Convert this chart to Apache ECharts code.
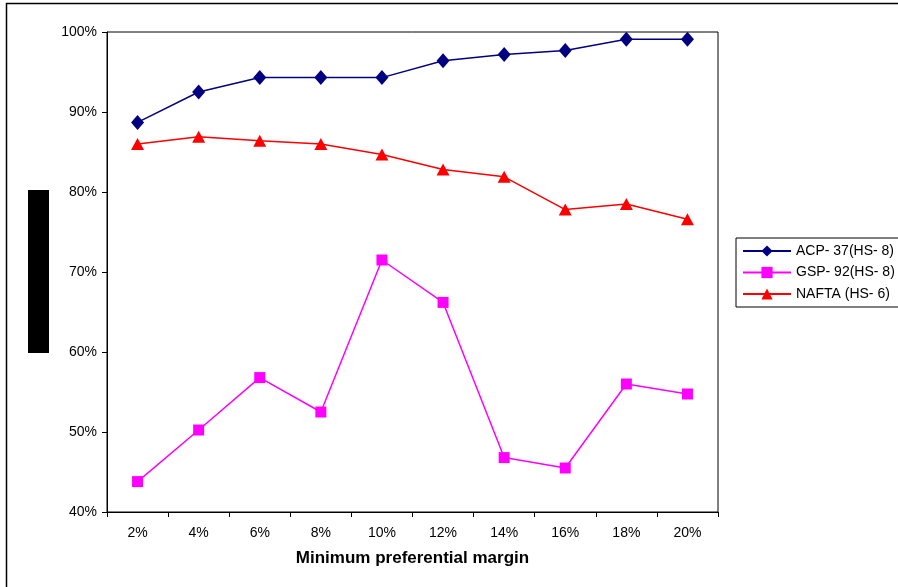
<!DOCTYPE html>
<html>
<head>
<meta charset="utf-8">
<script src="https://cdn.jsdelivr.net/npm/echarts@6/dist/echarts.min.js"></script>
<style>html,body{margin:0;padding:0;background:#fff;}#c{width:898px;height:587px;}</style>
</head>
<body>
<div id="c"></div>
<script>
const categories = ['2%','4%','6%','8%','10%','12%','14%','16%','18%','20%'];
const acpName = 'ACP- 37(HS- 8)';
const gspName = 'GSP- 92(HS- 8)';
const naftaName = 'NAFTA (HS- 6)';
const acpValues = [88.7, 92.5, 94.3, 94.3, 94.3, 96.4, 97.2, 97.7, 99.1, 99.1];
const gspValues = [43.8, 50.25, 56.8, 52.5, 71.5, 66.2, 46.8, 45.5, 56.0, 54.75];
const naftaValues = [86.0, 86.9, 86.4, 86.0, 84.7, 82.8, 81.9, 77.8, 78.5, 76.6];
const yMin = 40, yMax = 100, yStep = 10;
const xTitle = 'Minimum preferential margin';

const font = 'Liberation Sans, Arial, sans-serif';
const chart = echarts.init(document.getElementById('c'));
chart.setOption({
  animation: false,
  backgroundColor: '#fff',
  textStyle: { fontFamily: font },
  grid: { left: 107, top: 32, width: 611, height: 480, show: true, borderColor: '#000', borderWidth: 1 },
  legend: {
    orient: 'vertical', left: 736, top: 238,
    padding: [6, 40, 6, 6],
    itemWidth: 48, itemHeight: 14, itemGap: 7.5,
    borderColor: '#000', borderWidth: 1,
    textStyle: { fontFamily: font, fontSize: 14, color: '#000' },
    data: [acpName, gspName, naftaName]
  },
  xAxis: {
    type: 'category', data: categories, boundaryGap: true,
    axisLine: { lineStyle: { color: '#000', width: 1 } },
    axisTick: { show: true, alignWithLabel: false, length: 5, lineStyle: { color: '#000' } },
    axisLabel: { color: '#000', fontSize: 14, fontFamily: font, margin: 14 },
    name: xTitle, nameLocation: 'middle', nameGap: 38,
    nameTextStyle: { color: '#000', fontSize: 17, fontWeight: 'bold', fontFamily: font }
  },
  yAxis: {
    type: 'value', min: yMin, max: yMax, interval: yStep,
    axisLine: { show: true, lineStyle: { color: '#000', width: 1 } },
    axisTick: { show: true, length: 5, lineStyle: { color: '#000' } },
    axisLabel: { color: '#000', fontSize: 14, fontFamily: font, margin: 10, formatter: '{value}%' },
    splitLine: { show: false }
  },
  series: [
    { name: acpName, type: 'line', data: acpValues, color: '#000080',
      symbol: 'diamond', symbolSize: [13, 15], lineStyle: { width: 1.5, color: '#000080' },
      itemStyle: { color: '#000080' } },
    { name: gspName, type: 'line', data: gspValues, color: '#FF00FF',
      symbol: 'rect', symbolSize: 11, lineStyle: { width: 1.5, color: '#FF00FF' },
      itemStyle: { color: '#FF00FF' } },
    { name: naftaName, type: 'line', data: naftaValues, color: '#FF0000',
      symbol: 'triangle', symbolSize: [13, 12], lineStyle: { width: 1.5, color: '#FF0000' },
      itemStyle: { color: '#FF0000' } }
  ],
  graphic: [
    { type: 'rect', shape: { x: 6.5, y: 3.5, width: 1000, height: 1000 }, style: { fill: 'none', stroke: '#000', lineWidth: 1.5 }, silent: true },
    { type: 'rect', shape: { x: 28, y: 190, width: 21, height: 163 }, style: { fill: '#000' }, silent: true }
  ]
});
</script>
</body>
</html>
